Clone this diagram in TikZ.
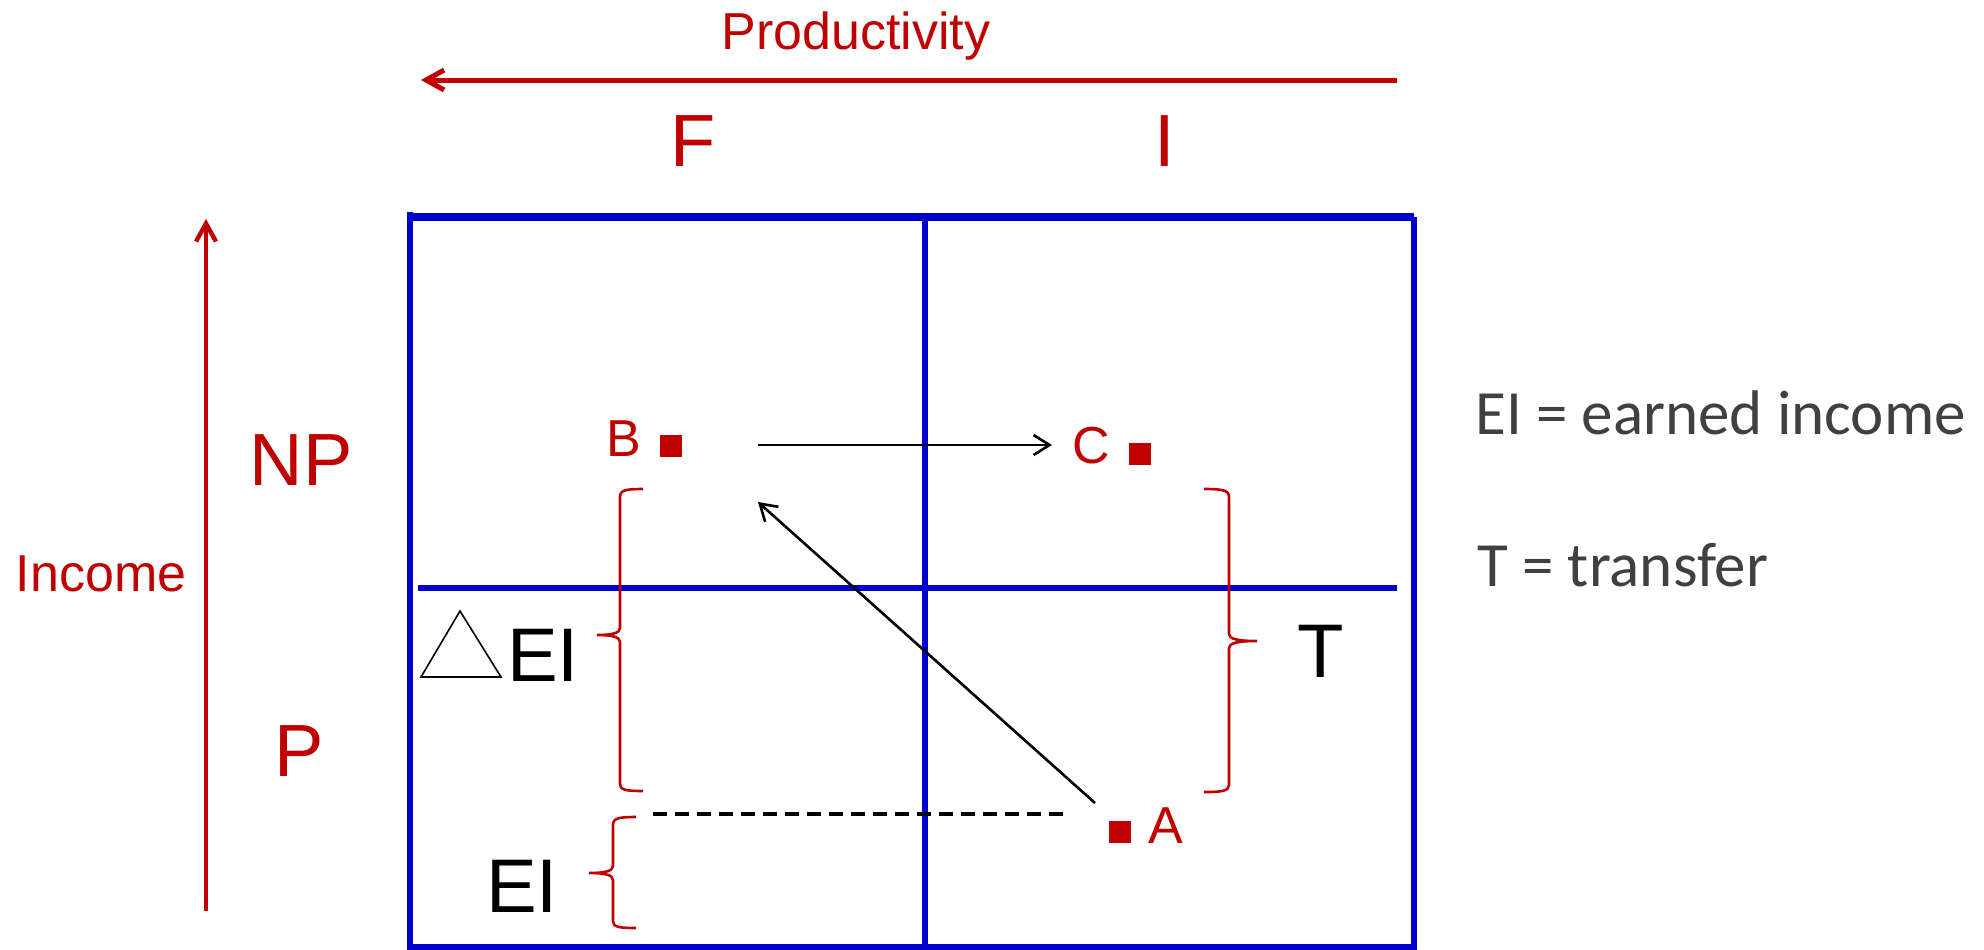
\documentclass[tikz,border=0pt]{standalone}
\usepackage{fontspec}
\setmainfont{Liberation Sans}
\newfontfamily\legendfont{Carlito}
\usetikzlibrary{arrows.meta}
\definecolor{incred}{RGB}{192,0,0}
\definecolor{gridblue}{RGB}{0,0,204}
\definecolor{legendgray}{RGB}{64,64,64}
\tikzset{
  grid line/.style={draw=gridblue, line width=3.3pt},
  axis arrow/.style={->, draw=incred, line width=2.5pt},
  move arrow/.style={->, line width=1.3pt, >={Straight Barb[length=8pt,width=10pt]}},
  brace line/.style={draw=incred, line width=1.3pt},
  pos dot/.style={fill=incred, minimum size=11pt, inner sep=0pt},
  small lbl/.style={anchor=base, inner sep=0pt, text=incred, font=\fontsize{26}{30}\selectfont},
  big lbl/.style={anchor=base, inner sep=0pt, text=incred, font=\fontsize{37}{42}\selectfont},
  key lbl/.style={anchor=base west, inner sep=0pt, text=legendgray, font=\legendfont\fontsize{31.5}{36}\selectfont},
}
\begin{document}
\begin{tikzpicture}[x=50pt, y=-50pt, >={Straight Barb[length=9pt,width=10pt]}]
  \useasboundingbox (0,0) rectangle (19.84,9.49);
  % Axes
  \coordinate (prodR) at (13.97,0.80);
  \coordinate (prodL) at (4.21,0.80);
  \draw[axis arrow] (prodR) -- (prodL);
  \node[small lbl] (prod) at (8.56,0.49) {Productivity};
  \coordinate (incB) at (2.06,9.11);
  \coordinate (incT) at (2.06,2.19);
  \draw[axis arrow, line width=2.2pt] (incB) -- (incT);
  \node[small lbl] (inc) at (1.01,5.91) {Income};
  \node[big lbl] (colF) at (6.93,1.66) {F};
  \node[big lbl] (colI) at (11.65,1.66) {I};
  \node[big lbl] (rowNP) at (3.01,4.85) {NP};
  \node[big lbl] (rowP) at (2.99,7.76) {P};
  % Grid
  \draw[grid line] (4.10,2.12) -- (4.10,9.55);
  \draw[grid line] (9.25,2.17) -- (9.25,9.55);
  \draw[grid line] (14.14,2.17) -- (14.14,9.55);
  \draw[grid line, line width=3.8pt] (4.10,2.17) -- (14.14,2.17);
  \draw[grid line] (4.10,9.47) -- (14.14,9.47);
  \draw[grid line] (4.18,5.88) -- (13.97,5.88);
  % Positions
  \node[pos dot] (B) at (6.71,4.46) {};
  \node[pos dot] (C) at (11.40,4.54) {};
  \node[pos dot] (A) at (11.20,8.32) {};
  \node[small lbl] (labB) at (6.24,4.56) {B};
  \node[small lbl] (labC) at (10.91,4.63) {C};
  \node[small lbl] (labA) at (11.66,8.43) {A};
  % Moves
  \coordinate (bc0) at (7.58,4.45);
  \coordinate (bc1) at (10.52,4.45);
  \draw[move arrow] (bc0) -- (bc1);
  \coordinate (ab0) at (10.95,8.03);
  \coordinate (ab1) at (7.58,5.02);
  \draw[move arrow] (ab0) -- (ab1);
  \coordinate (lvl0) at (6.53,8.14);
  \coordinate (lvl1) at (10.69,8.14);
  \draw[line width=1.6pt, dash pattern=on 7pt off 4pt] (lvl0) -- (lvl1);
  % Braces
  \draw[brace line] (6.43,4.89) .. controls (6.26,4.89) and (6.20,4.90) .. (6.20,4.97)
    -- (6.20,6.28) .. controls (6.20,6.33) and (6.12,6.35) .. (5.97,6.35)
    .. controls (6.12,6.35) and (6.20,6.37) .. (6.20,6.42)
    -- (6.20,7.84) .. controls (6.20,7.90) and (6.26,7.91) .. (6.43,7.91);
  \draw[brace line] (6.36,8.17) .. controls (6.19,8.17) and (6.13,8.18) .. (6.13,8.25)
    -- (6.13,8.66) .. controls (6.13,8.71) and (6.05,8.73) .. (5.89,8.73)
    .. controls (6.05,8.73) and (6.13,8.75) .. (6.13,8.80)
    -- (6.13,9.21) .. controls (6.13,9.27) and (6.19,9.28) .. (6.36,9.28);
  \draw[brace line] (12.04,4.89) .. controls (12.22,4.89) and (12.29,4.90) .. (12.29,4.97)
    -- (12.29,6.34) .. controls (12.29,6.39) and (12.38,6.41) .. (12.57,6.41)
    .. controls (12.38,6.41) and (12.29,6.43) .. (12.29,6.48)
    -- (12.29,7.85) .. controls (12.29,7.91) and (12.22,7.92) .. (12.04,7.92);
  % Brace labels
  \draw[line width=0.8pt] (4.21,6.77) -- (4.60,6.11) -- (5.01,6.77) -- cycle;
  \node[big lbl, text=black, font=\fontsize{38}{44}\selectfont] (dEI) at (5.43,6.81) {EI};
  \node[big lbl, text=black, font=\fontsize{38}{44}\selectfont] (EI) at (5.22,9.12) {EI};
  \node[big lbl, text=black, font=\fontsize{38}{44}\selectfont] (T) at (13.21,6.77) {T};
  % Key
  \node[key lbl] (keyEI) at (14.75,4.34) {EI = earned income};
  \node[key lbl] (keyT) at (14.77,5.86) {T = transfer};
\end{tikzpicture}
\end{document}
